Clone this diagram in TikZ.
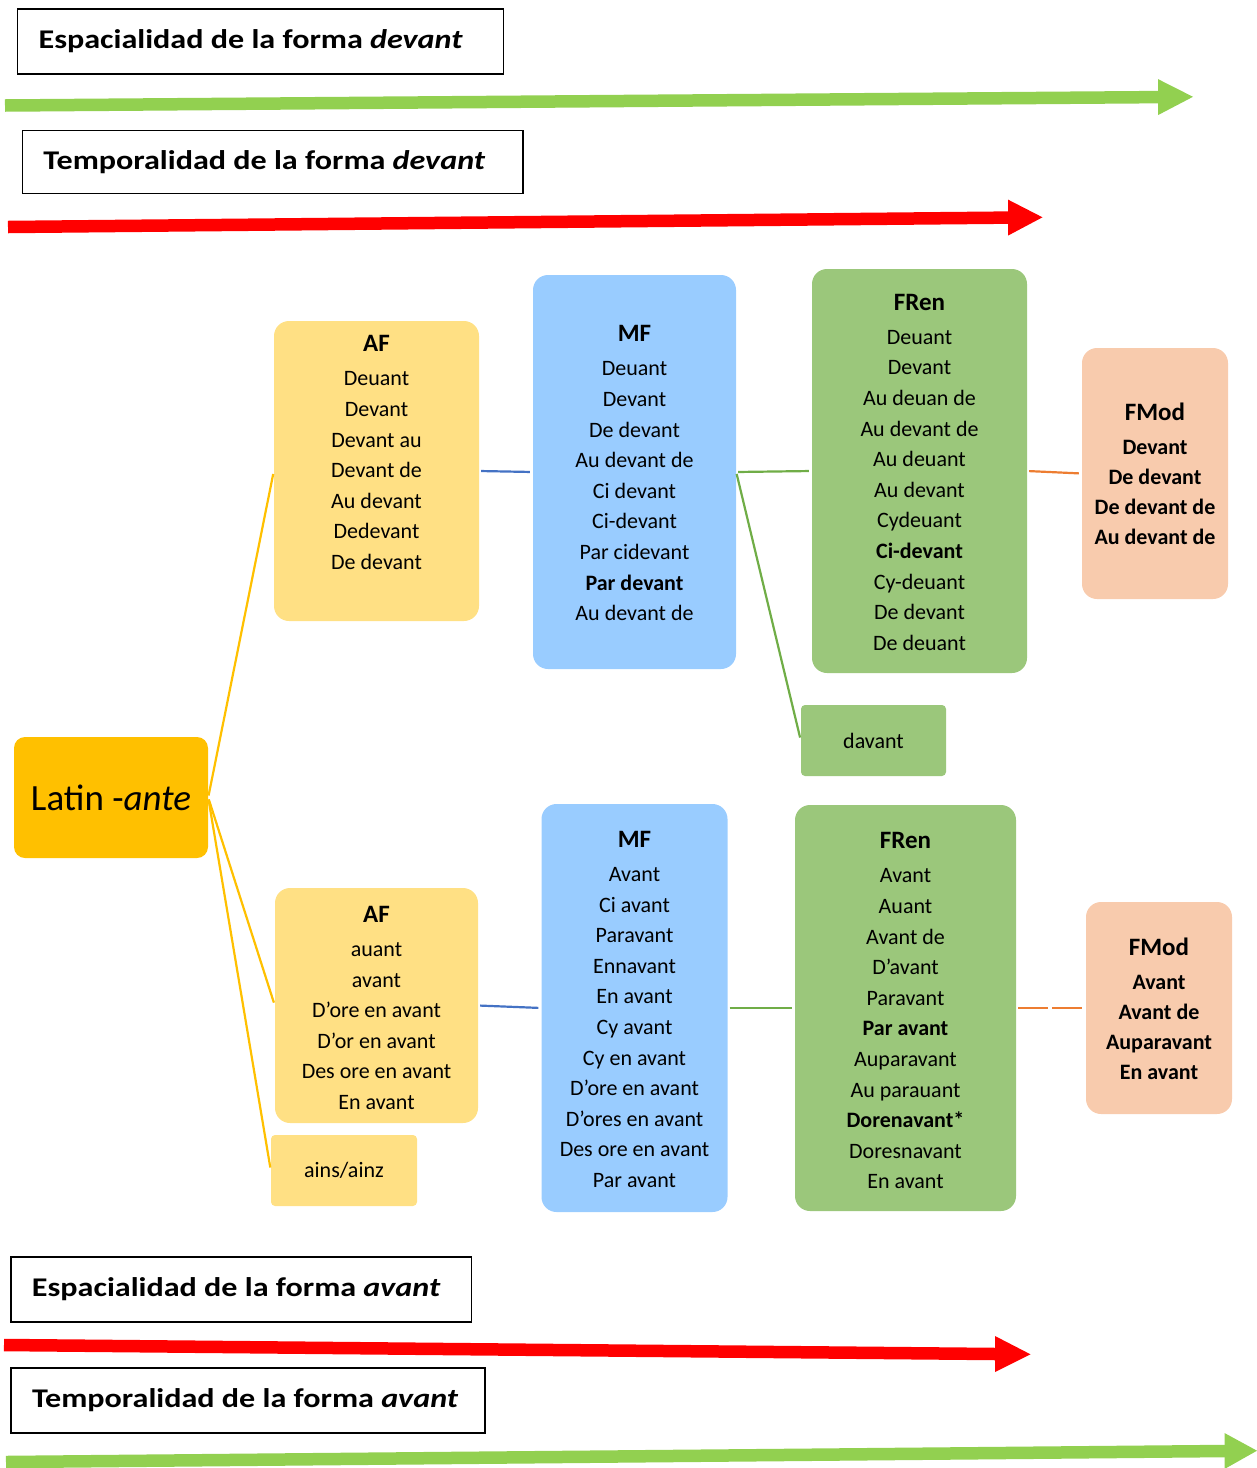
\documentclass[tikz,border=0pt]{standalone}
\usepackage{fontspec}
\setmainfont{Carlito}
\newfontfamily\hdrfont{Carlito}[FakeStretch=1.19]
\usetikzlibrary{positioning}
\definecolor{afyellow}{HTML}{FFE084}
\definecolor{latinorange}{HTML}{FFC000}
\definecolor{mfblue}{HTML}{99CCFF}
\definecolor{frengreen}{HTML}{9BC77B}
\definecolor{fmodpeach}{HTML}{F8CBAD}
\definecolor{arrowgreen}{HTML}{92D050}
\definecolor{arrowred}{HTML}{FF0000}
\definecolor{lineblue}{HTML}{4472C4}
\definecolor{linegreen}{HTML}{70AD47}
\definecolor{lineorange}{HTML}{ED7D31}
\newcommand{\ttl}[1]{\rule{0pt}{20pt}{\fontsize{25}{30}\selectfont\bfseries #1}}
\begin{document}
\begin{tikzpicture}[x=1pt, y=-1pt,
  panel/.style 2 args={minimum width=#1pt, minimum height=#2pt, rounded corners=15pt, inner sep=0pt},
  tag/.style 2 args={minimum width=#1pt, minimum height=#2pt, rounded corners=4pt, inner sep=0pt, font=\fontsize{22}{26}\selectfont},
  entries/.style={anchor=north, align=center, inner sep=0pt, font=\fontsize{22}{30.6}\selectfont},
  hdr/.style={draw, line width=1.4pt, inner xsep=21pt, inner ysep=0pt, minimum height=65pt, align=left,
    font=\hdrfont\fontsize{27}{32}\selectfont\bfseries, execute at begin node=\spaceskip 0pt\relax},
  link/.style={line width=2.2pt, shorten <=2pt, shorten >=3pt}
]
\useasboundingbox (0,0) rectangle (1257,1468);

% headers and time arrows
\node[hdr, text width=444pt] (espdev) at (260.6,41.5) {Espacialidad de la forma \textit{devant}};
\node[hdr, text width=458.5pt, minimum height=63pt] (tempdev) at (272.7,161.7) {Temporalidad de la forma \textit{devant}};
\node[hdr, text width=418.5pt] (espav) at (241.2,1289.5) {Espacialidad de la forma \textit{avant}};
\node[hdr, text width=432pt] (tempav) at (248,1400.3) {Temporalidad de la forma \textit{avant}};
\foreach \sx/\sy/\bx/\by/\tx/\ty/\col in {5/105.5/1158/97.1/1193/96.8/arrowgreen,
    8/227/1008/217.6/1042.5/217.3/arrowred,
    4/1345/995/1354/1030.5/1354.3/arrowred,
    6/1462/1224.5/1451/1257/1450.7/arrowgreen} {
  \draw[line width=12.5pt, \col] (\sx,\sy) -- (\bx+1,\by);
  \fill[\col] (\bx,\by-18) -- (\tx,\ty) -- (\bx,\by+18) -- cycle;
}

% root
\node[panel={194}{121}, rounded corners=11pt, fill=latinorange, font=\fontsize{37}{40}\selectfont] (latin) at (111,797.5) {Latin -\textit{ante}};

% devant branch
\node[panel={205}{300}, fill=afyellow] (afA) at (376.5,471) {};
\node[entries, below=10.7pt of afA.north] (afAtxt) {\ttl{AF}\\[3.6pt]Deuant\\Devant\\Devant au\\Devant de\\Au devant\\Dedevant\\De devant};
\node[panel={203}{394}, fill=mfblue] (mfA) at (634.5,472) {};
\node[entries, below=46.7pt of mfA.north] (mfAtxt) {\ttl{MF}\\[3.6pt]Deuant\\Devant\\De devant\\Au devant de\\Ci devant\\Ci-devant\\Par cidevant\\\textbf{Par devant}\\Au devant de};
\node[panel={215}{404}, fill=frengreen] (frenA) at (919.5,471) {};
\node[entries, below=21pt of frenA.north] (frenAtxt) {\ttl{FRen}\\[3.6pt]Deuant\\Devant\\Au deuan de\\Au devant de\\Au deuant\\Au devant\\Cydeuant\\\textbf{Ci-devant}\\Cy-deuant\\De devant\\De deuant};
\node[panel={146}{251}, fill=fmodpeach] (fmodA) at (1155,473.5) {};
\node[entries, font=\fontsize{22}{30.2}\selectfont\bfseries, below=52.7pt of fmodA.north] (fmodAtxt) {\ttl{FMod}\\[3.4pt]Devant\\De devant\\De devant de\\Au devant de};
\node[tag={145}{71}, fill=frengreen] (davant) at (873.5,740.5) {davant};

% avant branch
\node[panel={203}{235}, fill=afyellow] (afB) at (376.5,1005.5) {};
\node[entries, below=14.3pt of afB.north] (afBtxt) {\ttl{AF}\\[3.6pt]auant\\avant\\D’ore en avant\\D’or en avant\\Des ore en avant\\En avant};
\node[tag={146}{71}, fill=afyellow] (ains) at (344,1170.5) {ains/ainz};
\node[panel={186}{408}, fill=mfblue] (mfB) at (634.5,1008) {};
\node[entries, below=23.3pt of mfB.north] (mfBtxt) {\ttl{MF}\\[3.6pt]Avant\\Ci avant\\Paravant\\Ennavant\\En avant\\Cy avant\\Cy en avant\\D’ore en avant\\D’ores en avant\\Des ore en avant\\Par avant};
\node[panel={221}{406}, fill=frengreen] (frenB) at (905.5,1008) {};
\node[entries, below=23.7pt of frenB.north] (frenBtxt) {\ttl{FRen}\\[3.6pt]Avant\\Auant\\Avant de\\D’avant\\Paravant\\\textbf{Par avant}\\Auparavant\\Au parauant\\\textbf{Dorenavant*}\\Doresnavant\\En avant};
\node[panel={146}{212}, fill=fmodpeach] (fmodB) at (1159,1008) {};
\node[entries, font=\fontsize{22}{30.2}\selectfont\bfseries, below=33.7pt of fmodB.north] (fmodBtxt) {\ttl{FMod}\\[3.4pt]Avant\\Avant de\\Auparavant\\En avant};

% connectors
\draw[link, latinorange] (latin.east) -- (afA.west);
\draw[link, latinorange] (latin.east) -- (afB.west);
\draw[link, latinorange] (latin.east) -- (ains.west);
\draw[link, lineblue] (afA.east) -- (mfA.west);
\draw[link, linegreen] (mfA.east) -- (frenA.west);
\draw[link, linegreen] (mfA.east) -- (davant.west);
\draw[link, lineorange] (frenA.east) -- (fmodA.west);
\draw[link, lineblue] (afB.east) -- (mfB.west);
\draw[link, linegreen] (mfB.east) -- (frenB.west);
\draw[link, lineorange, dash pattern=on 30pt off 4pt] (frenB.east) -- (fmodB.west);
\end{tikzpicture}
\end{document}
